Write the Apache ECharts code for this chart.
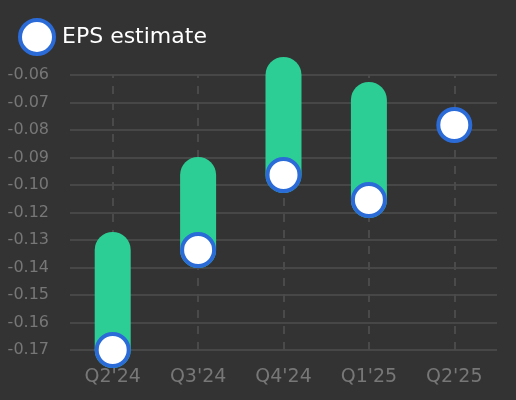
<!DOCTYPE html>
<html>
<head>
    <meta charset="UTF-8">
    <title>EPS estimate</title>
    <script src="https://cdn.jsdelivr.net/npm/echarts@6/dist/echarts.min.js"></script>
    <style>
        html, body { margin: 0; padding: 0; background: #333333; }
    </style>
</head>
<body>
    <div id="chart" style="width:516px; height:400px;"></div>
    <script>
        // quarters and values
        var quarters = ["Q2'24", "Q3'24", "Q4'24", "Q1'25", "Q2'25"];
        var epsEstimate = [-0.17, -0.13, -0.10, -0.11, -0.08];
        var rangeHigh = [-0.13, -0.10, -0.06, -0.07, null];

        // the axis runs from -0.17 to -0.06 in 10 equal steps, labels rounded
        var yMin = -0.17;
        var yStep = 0.011;
        var yLabels = ['-0.17', '-0.16', '-0.15', '-0.14', '-0.13', '-0.12',
                       '-0.10', '-0.09', '-0.08', '-0.07', '-0.06'];

        function toAxis(v) {
            return (v - yMin) / yStep;
        }

        var capsuleData = [];
        for (var i = 0; i < quarters.length; i++) {
            if (rangeHigh[i] !== null) {
                capsuleData.push([i, toAxis(epsEstimate[i]), toAxis(rangeHigh[i])]);
            }
        }
        var markerData = epsEstimate.map(function (v, i) { return [i, toAxis(v)]; });

        var chart = echarts.init(document.getElementById('chart'), null, {renderer: 'canvas'});

        chart.setOption({
            backgroundColor: '#333333',
            animation: false,
            legend: {
                data: ['EPS estimate'],
                left: 13,
                top: 13,
                itemWidth: 34,
                itemHeight: 34,
                icon: 'circle',
                itemStyle: {color: '#ffffff', borderColor: '#2b6bd8', borderWidth: 4},
                textStyle: {color: '#ffffff', fontSize: 22, fontFamily: 'DejaVu Sans', padding: [0, 0, 0, 3]}
            },
            grid: {left: 70, right: 19, top: 75, bottom: 50, outerBoundsMode: 'none'},
            xAxis: {
                type: 'category',
                data: quarters,
                boundaryGap: true,
                axisLine: {show: false},
                axisTick: {show: false},
                splitLine: {show: false},
                axisLabel: {color: '#777777', fontSize: 19, fontFamily: 'DejaVu Sans', margin: 18}
            },
            yAxis: {
                type: 'value',
                min: 0,
                max: 10,
                interval: 1,
                axisLine: {show: false},
                axisTick: {show: false},
                splitLine: {lineStyle: {color: '#474747', width: 2}},
                axisLabel: {
                    color: '#777777', fontSize: 16, fontFamily: 'DejaVu Sans', margin: 21,
                    formatter: function (v) { return yLabels[Math.round(v)]; }
                }
            },
            series: [
                {
                    // holds the dashed lines at each quarter
                    type: 'scatter',
                    name: 'guides',
                    data: [],
                    z: 1,
                    silent: true,
                    markLine: {
                        z: 1,
                        silent: true,
                        symbol: 'none',
                        label: {show: false},
                        lineStyle: {color: '#4a4a4a', width: 2, type: [8, 8]},
                        data: quarters.map(function (q) { return {xAxis: q}; })
                    }
                },
                {
                    type: 'custom',
                    name: 'range',
                    z: 3,
                    clip: false,
                    data: capsuleData,
                    renderItem: function (params, api) {
                        var lo = api.coord([api.value(0), api.value(1)]);
                        var hi = api.coord([api.value(0), api.value(2)]);
                        var w = 36;
                        return {
                            type: 'rect',
                            shape: {
                                x: lo[0] - w / 2,
                                y: hi[1] - w / 2,
                                width: w,
                                height: lo[1] - hi[1] + w,
                                r: w / 2
                            },
                            style: {fill: '#2dce96'}
                        };
                    }
                },
                {
                    type: 'scatter',
                    name: 'EPS estimate',
                    z: 4,
                    data: markerData,
                    symbol: 'circle',
                    symbolSize: 32,
                    itemStyle: {color: '#ffffff', borderColor: '#2b6bd8', borderWidth: 4, opacity: 1}
                }
            ]
        });
    </script>
</body>
</html>
